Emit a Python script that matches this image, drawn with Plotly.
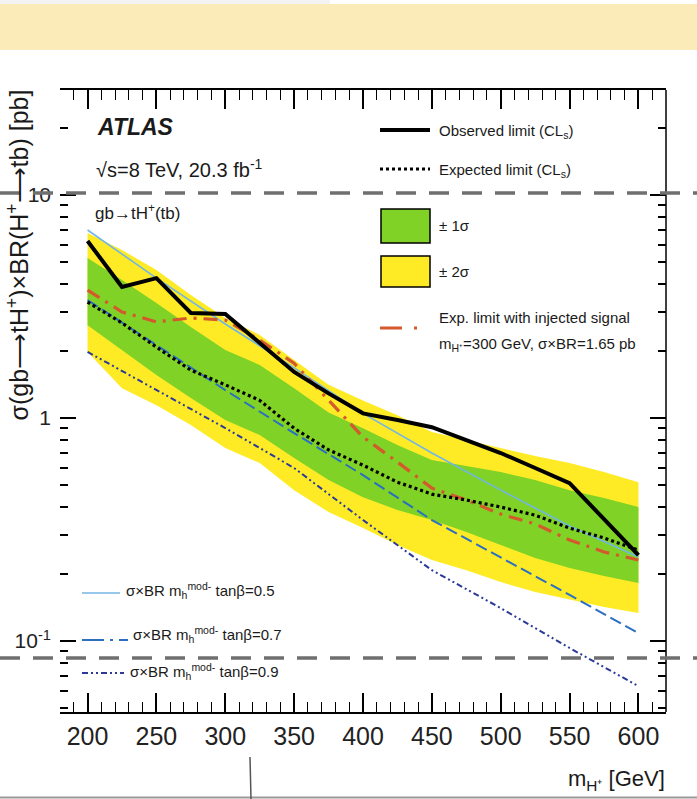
import plotly.graph_objects as go

# ---- limit scan (charged Higgs mass in GeV, cross section x BR in pb) ----
mass = [200, 225, 250, 275, 300, 325, 350, 375, 400, 425, 450, 475, 500, 525, 550, 575, 600]
observed = [6.22, 3.87, 4.24, 2.96, 2.93, 2.17, 1.61, 1.29, 1.05, 0.98, 0.91, 0.797, 0.697, 0.597, 0.511, 0.352, 0.243]
expected = [3.31, 2.67, 2.08, 1.64, 1.41, 1.20, 0.90, 0.72, 0.615, 0.516, 0.456, 0.429, 0.399, 0.367, 0.321, 0.290, 0.256]
band1_hi = [5.22, 4.16, 3.28, 2.56, 2.02, 1.73, 1.36, 1.06, 0.90, 0.757, 0.648, 0.609, 0.573, 0.527, 0.475, 0.438, 0.399]
band1_lo = [2.61, 2.02, 1.56, 1.23, 0.98, 0.839, 0.662, 0.527, 0.442, 0.387, 0.349, 0.308, 0.2695, 0.2356, 0.2125, 0.1956, 0.182]
band2_hi = [6.75, 5.67, 4.61, 3.56, 2.81, 2.36, 1.82, 1.41, 1.20, 1.03, 0.865, 0.797, 0.734, 0.676, 0.628, 0.573, 0.516]
band2_lo = [1.98, 1.36, 1.14, 0.93, 0.734, 0.628, 0.475, 0.379, 0.321, 0.2695, 0.2309, 0.208, 0.184, 0.166, 0.153, 0.142, 0.1336]
injected = [3.75, 2.99, 2.70, 2.81, 2.75, 2.24, 1.76, 1.20, 0.822, 0.635, 0.485, 0.429, 0.371, 0.335, 0.284, 0.251, 0.231]

# ---- mh^mod- benchmark predictions ----
theory_mass = [200, 250, 300, 350, 400, 450, 500, 550, 600]
tanb_05 = [6.97, 4.24, 2.64, 1.68, 1.05, 0.697, 0.475, 0.328, 0.238]
tanb_07 = [3.38, 2.12, 1.335, 0.856, 0.555, 0.349, 0.238, 0.161, 0.1086]
tanb_09 = [1.98, 1.335, 0.902, 0.597, 0.349, 0.208, 0.1406, 0.0931, 0.0628]

x_ticks = [200, 250, 300, 350, 400, 450, 500, 550, 600]
y_ticks = [0.1, 1, 10]
y_ticktext = ["10<sup>-1</sup>", "1", "10"]
y_minor = [0.05, 0.06, 0.07, 0.08, 0.09, 0.2, 0.3, 0.4, 0.5, 0.6, 0.7, 0.8, 0.9,
           2, 3, 4, 5, 6, 7, 8, 9, 20]

# ---- page geometry ----
W, H = 697, 799
ML, MR, MT, MB = 60, 31, 90, 87
PW, PH = W - ML - MR, H - MT - MB


def px(x):
    return (x - ML) / PW


def py(y):
    return (H - MB - y) / PH


FONT = "Liberation Sans, Arial, sans-serif"
GREEN = "#80d226"
YELLOW = "#feeb26"
RED = "#d4592c"
LBLUE = "#72b6e4"
BLUE = "#2a6fc0"
DBLUE = "#2b3a98"

fig = go.Figure()

# +-2 sigma and +-1 sigma bands
fig.add_trace(go.Scatter(x=mass + mass[::-1], y=band2_hi + band2_lo[::-1],
                         fill="toself", fillcolor=YELLOW, line=dict(width=0),
                         mode="lines", hoverinfo="skip"))
fig.add_trace(go.Scatter(x=mass + mass[::-1], y=band1_hi + band1_lo[::-1],
                         fill="toself", fillcolor=GREEN, line=dict(width=0),
                         mode="lines", hoverinfo="skip"))

# benchmark curves
fig.add_trace(go.Scatter(x=theory_mass, y=tanb_05, mode="lines",
                         line=dict(color=LBLUE, width=1.6)))
fig.add_trace(go.Scatter(x=theory_mass, y=tanb_07, mode="lines",
                         line=dict(color=BLUE, width=2, dash="12px,5px")))
fig.add_trace(go.Scatter(x=theory_mass, y=tanb_09, mode="lines",
                         line=dict(color=DBLUE, width=2, dash="6px,3px,2px,3px,2px,3px")))

# injected-signal expectation, expected and observed limits
fig.add_trace(go.Scatter(x=mass, y=injected, mode="lines",
                         line=dict(color=RED, width=3.2, dash="14px,7px,3px,7px")))
fig.add_trace(go.Scatter(x=mass, y=expected, mode="lines",
                         line=dict(color="black", width=3.2, dash="3px,3px")))
fig.add_trace(go.Scatter(x=mass, y=observed, mode="lines",
                         line=dict(color="black", width=4)))

shapes = []
annotations = []


def hline(x0, x1, y, color, width, dash=None):
    d = dict(type="line", xref="paper", yref="paper",
             x0=px(x0), x1=px(x1), y0=py(y), y1=py(y),
             line=dict(color=color, width=width), layer="above")
    if dash:
        d["line"]["dash"] = dash
    shapes.append(d)


def box(x0, x1, y0, y1, fill, line_color="black", layer="above", lw=1.5):
    shapes.append(dict(type="rect", xref="paper", yref="paper",
                       x0=px(x0), x1=px(x1), y0=py(y1), y1=py(y0),
                       fillcolor=fill, line=dict(color=line_color, width=lw),
                       layer=layer))


def text(x, y, s, size, anchor="left", color="#1a1a1a", angle=0, yanchor="middle"):
    annotations.append(dict(xref="paper", yref="paper", x=px(x), y=py(y),
                            text=s, showarrow=False, xanchor=anchor, yanchor=yanchor,
                            textangle=angle,
                            font=dict(family=FONT, size=size, color=color)))


# right frame edge
shapes.append(dict(type="line", xref="paper", yref="paper", x0=1, x1=1, y0=0, y1=1,
                   line=dict(color="black", width=1.5), layer="above"))

# header strip and page furniture
box(0, 330, -2, 4, "#f3f3f3", line_color="rgba(0,0,0,0)", lw=0)
box(0, W, 4, 50, "#fbebb8", line_color="rgba(0,0,0,0)", lw=0)
hline(0, W, 797.5, "#9a9a9a", 2)
shapes.append(dict(type="line", xref="paper", yref="paper",
                   x0=px(250), x1=px(251), y0=py(757), y1=py(799),
                   line=dict(color="#555555", width=1.5), layer="above"))

# upper-right legend
hline(380, 430, 130, "black", 4)
text(437, 131, "Observed limit (CL<sub>s</sub>)", 15)
hline(380, 430, 169, "black", 3.2, "3px,3px")
text(437, 170, "Expected limit (CL<sub>s</sub>)", 15)
box(381, 430, 209, 243, GREEN)
text(437, 225, "± 1σ", 15)
box(381, 430, 256, 287, YELLOW)
text(437, 271, "± 2σ", 15)
hline(380, 421, 328, RED, 3.2, "22px,12px,3px,7px")
text(437, 317, "Exp. limit with injected signal", 15)
text(437, 344, "m<sub>H⁺</sub>=300 GeV, σ×BR=1.65 pb", 15)

# lower-left legend
hline(82, 120, 593, LBLUE, 1.6)
text(124, 590, "σ×BR m<sub>h</sub><sup>mod-</sup> tanβ=0.5", 15)
hline(82, 128, 640, BLUE, 2, "22px,6px,3px,6px")
text(131, 634, "σ×BR m<sub>h</sub><sup>mod-</sup> tanβ=0.7", 15)
hline(82, 124, 673, DBLUE, 2, "6px,3px,2px,3px,2px,3px")
text(128, 671, "σ×BR m<sub>h</sub><sup>mod-</sup> tanβ=0.9", 15)

# experiment labels
annotations.append(dict(xref="paper", yref="paper", x=px(95), y=py(127),
                        text="<b><i>ATLAS</i></b>", showarrow=False,
                        xanchor="left", yanchor="middle",
                        font=dict(family=FONT, size=23, color="#1a1a1a")))
text(94, 169, "√s=8 TeV, 20.3 fb<sup>-1</sup>", 20)
text(93, 212, "gb→tH<sup>+</sup>(tb)", 17)

# axis titles
text(17, 88, "σ(gb⟶tH<sup>+</sup>)×BR(H<sup>+</sup>⟶tb) [pb]", 25,
     anchor="center", angle=-90, yanchor="top")
text(667, 780, "m<sub>H⁺</sub> [GeV]", 22, anchor="right")

# reference levels across the page
hline(0, W, 193, "#6f6f6f", 3.5, "20px,13px")
hline(0, W, 658, "#6f6f6f", 3.5, "20px,13px")

fig.update_layout(
    width=W, height=H,
    margin=dict(l=ML, r=MR, t=MT, b=MB),
    paper_bgcolor="white", plot_bgcolor="white",
    showlegend=False,
    shapes=shapes, annotations=annotations,
    font=dict(family=FONT, color="#1a1a1a"),
)

fig.update_xaxes(
    range=[180, 620], tickmode="array", tickvals=x_ticks,
    ticks="inside", ticklen=19, tickwidth=1.5, tickcolor="black",
    showline=True, linecolor="black", linewidth=1.5, mirror="allticks",
    showgrid=False, zeroline=False,
    tickfont=dict(family=FONT, size=25, color="#222222"),
    ticklabelstandoff=1,
    minor=dict(dtick=10, tick0=0, ticks="inside", ticklen=10, tickwidth=1.2,
               tickcolor="black", showgrid=False),
)

fig.update_yaxes(
    type="log", range=[-1.318, 1.471], tickmode="array",
    tickvals=y_ticks, ticktext=y_ticktext,
    ticks="inside", ticklen=16, tickwidth=1.8, tickcolor="black",
    showline=False, mirror="allticks",
    showgrid=False, zeroline=False,
    tickfont=dict(family=FONT, size=21, color="#222222"),
    ticklabelstandoff=8,
    minor=dict(tickmode="array", tickvals=y_minor, ticks="inside", ticklen=8,
               tickwidth=1.5, tickcolor="black", showgrid=False),
)

fig.write_html("out.html")
